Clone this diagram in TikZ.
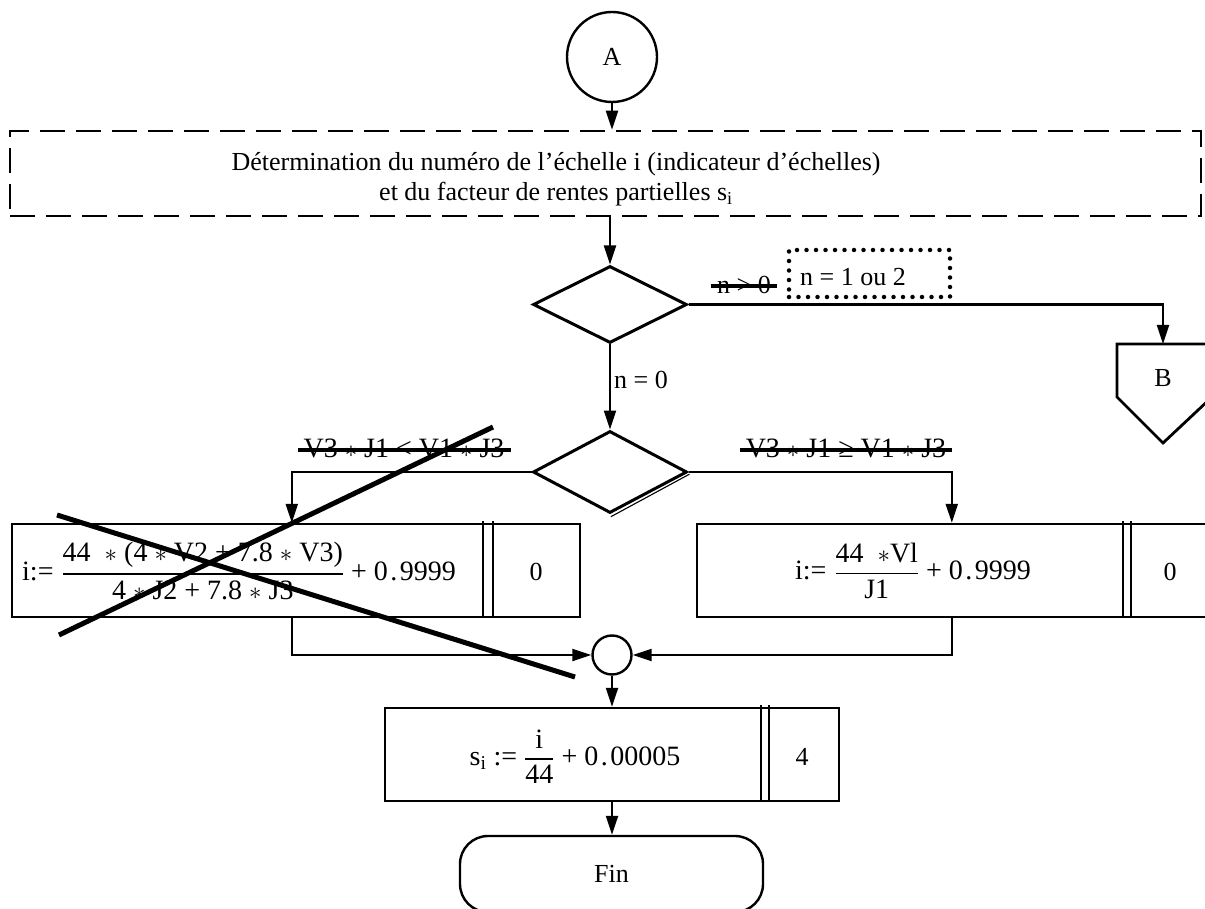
\documentclass[tikz,border=0pt]{standalone}
\usepackage{amsmath}
\usepackage{fontspec}
\setmainfont{Liberation Serif}
\usetikzlibrary{arrows.meta,shapes.geometric,calc}
\newcommand{\myfr}[2]{$\genfrac{}{}{1.8pt}{0}{\hbox{#1}}{\hbox{#2}}$}
\newcommand{\mul}{$\ast$}
\newcommand{\pt}{\kern2.5pt.\kern2.5pt}
\begin{document}
\begin{tikzpicture}[x=1pt,y=-1pt,
  every node/.style={font=\fontsize{26}{30}\selectfont, inner sep=0pt},
  big/.style={font=\fontsize{28}{32}\selectfont},
  shp/.style={draw, line width=2.4pt},
  arr/.style={line width=2.2pt, -{Triangle[length=19pt,width=12pt]}},
  strike/.style={line width=4.5pt},
  bigx/.style={line width=5pt},
  dia/.style={draw, diamond, line width=3pt, minimum width=154pt, minimum height=77pt, inner sep=0pt}]
\useasboundingbox (0,0) rectangle (1205,909);
\clip (0,0) rectangle (1205,909);

% start connector
\node[shp, circle, minimum size=90pt] (A) at (612,57) {A};
\node[draw, line width=2.6pt, dash pattern=on 25pt off 11pt, minimum width=1191pt, minimum height=85pt] (det) at (605.5,173.5) {};
\node[align=center] (dettxt) at (556,179) {Détermination du numéro de l’échelle i (indicateur d’échelles)\\ et du facteur de rentes partielles s\textsubscript{i}};

% decisions
\node[dia] (d1) at (610,304.5) {};
\node[dia, minimum height=82pt] (d2) at (610,472) {};
\draw[line width=1.1pt] ([shift={(0.9,2.2)}]d2.south) -- ([shift={(0.9,2.2)}]d2.east);

\draw[arr] (A.south) -- (A.south |- det.north);
\draw[arr] (d1 |- det.south) -- (d1.north);
\draw[arr] (d1.south) -- (d2.north);

% B connector
\coordinate (Btop) at (1163,344);
\draw[shp, line width=2.8pt] (1117,344) -- (1212,344) -- (1212,397) -- (1163,443) -- (1117,397) -- cycle;
\node (B) at (1163,378) {B};
\draw[arr] (d1.east) -| (Btop);

\node (ngt) at (744,285) {n > 0};
\draw[strike] (711,286) -- (777,286);
\node[draw, line width=4.5pt, dash pattern=on 0pt off 9.5pt, line cap=round, minimum width=161pt, minimum height=47pt] (dot) at (869.5,273.5) {};
\node[anchor=west] (n12) at (800,277) {n = 1 ou 2};
\node[anchor=west] (n0) at (614,380) {n = 0};

% branch labels
\node[big] (lt) at (404,448) {V3 \mul{} J1 < V1 \mul{} J3};
\draw[strike] (298,450) -- (511,450);
\node[big] (rt) at (846,448) {V3 \mul{} J1 ≥ V1 \mul{} J3};
\draw[strike] (740,450) -- (952,450);

% box 1
\node[shp, minimum width=568pt, minimum height=93pt] (b1) at (296,570.5) {};
\draw[shp] (483,521) -- (483,617) (493,521) -- (493,617);
\node[big, anchor=west] (f1) at (22,571) {i:=\kern8pt\myfr{44\enspace\mul{} (4 \mul{} V2 + 7.8 \mul{} V3)}{4 \mul{} J2 + 7.8 \mul{} J3} + 0\pt9999};
\node (z1) at (536,572) {0};

% box 2
\node[shp, minimum width=515pt, minimum height=93pt] (b2) at (954.5,570.5) {};
\draw[shp] (1123,521) -- (1123,617) (1131,521) -- (1131,617);
\node[big] (f2) at (913,571) {i:=\kern8pt\myfr{44\enspace\mul{}Vl}{J1} + 0\pt9999};
\node (z2) at (1170,572) {0};

\coordinate (b1in) at ($(b1.north west)+(281,0)$);
\coordinate (b2in) at ($(b2.north west)+(256,0)$);
\coordinate (b1out) at ($(b1.south west)+(281,0)$);
\coordinate (b2out) at ($(b2.south west)+(256,0)$);
\draw[arr] (d2.west) -| (b1in);
\draw[arr] (d2.east) -| (b2in);

% merge
\node[shp, circle, minimum size=39pt] (m) at (612,655) {};
\draw[arr] (b1out) |- (m.west);
\draw[arr] (b2out) |- (m.east);

% box 3
\node[shp, minimum width=454pt, minimum height=93pt] (b3) at (612,754.5) {};
\draw[shp] (761,705) -- (761,801) (769,705) -- (769,801);
\node[big] (f3) at (575,757) {s\textsubscript{i} := \myfr{i}{44} + 0\pt00005};
\node (z3) at (802,757) {4};
\draw[arr] (m.south) -- (m.south |- b3.north);

\node[shp, rounded corners=28pt, minimum width=303pt, minimum height=76pt] (fin) at (611.5,874) {Fin};
\draw[arr] (m |- b3.south) -- (m |- fin.north);

% big cross
\draw[bigx] (57,515) -- (575,677);
\draw[bigx] (59,635) -- (493,427);
\end{tikzpicture}
\end{document}
